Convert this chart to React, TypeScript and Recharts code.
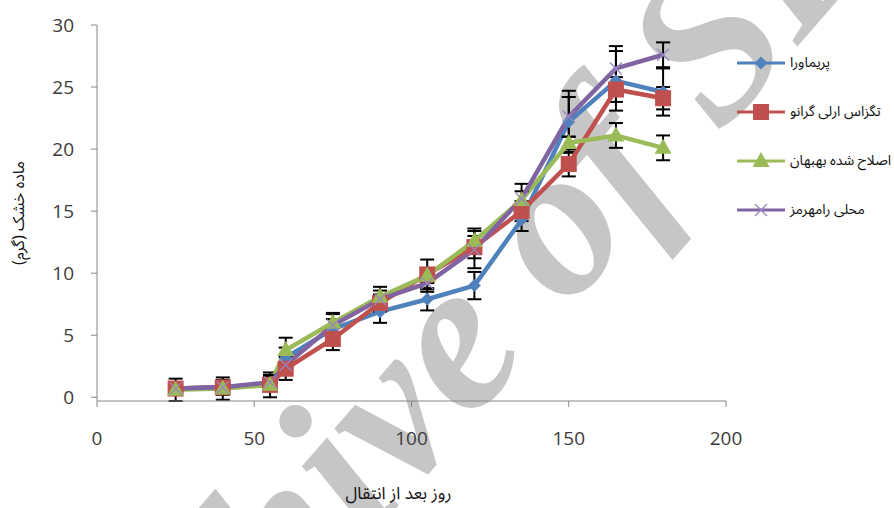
import React from 'react';
import { LineChart, Line, XAxis, YAxis, ErrorBar } from 'recharts';

// Days after transplanting
const days = [25, 40, 55, 60, 75, 90, 105, 120, 135, 150, 165, 180];

// Dry matter (g) per cultivar
const primavera = [0.7, 0.8, 1.1, 3.2, 5.5, 6.9, 7.9, 9.0, 14.3, 22.2, 25.5, 24.6];
const texasEarlyGrano = [0.7, 0.8, 1.0, 2.3, 4.7, 7.6, 9.9, 12.1, 15.0, 18.8, 24.8, 24.1];
const behbahanImproved = [0.6, 0.7, 1.0, 3.8, 6.0, 8.1, 9.8, 12.6, 15.9, 20.5, 21.1, 20.1];
const ramhormozLocal = [0.7, 0.8, 1.2, 2.6, 5.8, 7.9, 9.2, 11.9, 16.0, 22.6, 26.5, 27.6];

// Standard errors
const primaveraErr = [0.5, 0.5, 0.6, 0.8, 0.8, 0.9, 0.9, 1.1, 0.9, 2.5, 2.4, 1.9];
const texasEarlyGranoErr = [0.4, 0.4, 0.5, 0.9, 0.9, 0.7, 1.2, 0.9, 0.8, 1.0, 1.0, 0.9];
const behbahanImprovedErr = [0.9, 0.9, 1.0, 1.0, 0.8, 0.8, 0.6, 1.0, 1.3, 0.5, 1.0, 1.0];
const ramhormozLocalErr = [0.5, 0.6, 0.6, 0.7, 0.9, 0.7, 0.7, 1.5, 0.6, 1.6, 1.8, 1.0];

const seriesNames = ['پریماورا', 'تگزاس ارلی گرانو', 'اصلاح شده بهبهان', 'محلی رامهرمز'];
const xTicks = [0, 50, 100, 150, 200];
const yTicks = [0, 5, 10, 15, 20, 25, 30];
const xTitle = 'روز بعد از انتقال';
const yTitle = 'ماده خشک (گرم)';
const watermark = 'Archive of SID';

const rows = days.map((d, i) => ({
  day: d,
  s0: primavera[i],
  s1: texasEarlyGrano[i],
  s2: behbahanImproved[i],
  s3: ramhormozLocal[i],
  e0: primaveraErr[i],
  e1: texasEarlyGranoErr[i],
  e2: behbahanImprovedErr[i],
  e3: ramhormozLocalErr[i],
}));

const COLORS = ['#4F81BD', '#C0504D', '#9BBB59', '#8064A2'];

type MarkerProps = { cx: number; cy: number };

const Diamond = ({ cx, cy }: MarkerProps) => (
  <polygon
    points={`${cx},${cy - 6.5} ${cx + 6.5},${cy} ${cx},${cy + 6.5} ${cx - 6.5},${cy}`}
    fill={COLORS[0]}
  />
);
const Square = ({ cx, cy }: MarkerProps) => (
  <rect x={cx - 8} y={cy - 8} width={16} height={16} fill={COLORS[1]} />
);
const Triangle = ({ cx, cy }: MarkerProps) => (
  <polygon
    points={`${cx},${cy - 9} ${cx + 8.5},${cy + 6} ${cx - 8.5},${cy + 6}`}
    fill={COLORS[2]}
  />
);
const Cross = ({ cx, cy }: MarkerProps) => (
  <g stroke="#9a86c0" strokeWidth={1.3}>
    <line x1={cx - 6} y1={cy - 6} x2={cx + 6} y2={cy + 6} />
    <line x1={cx - 6} y1={cy + 6} x2={cx + 6} y2={cy - 6} />
  </g>
);
const MARKERS = [Diamond, Square, Triangle, Cross];

const makeDot = (k: number) => (props: any) => {
  const M = MARKERS[k];
  if (props.cx == null || props.cy == null) return <g key={`d${k}-${props.index}`} />;
  return (
    <g key={`d${k}-${props.index}`}>
      <M cx={props.cx} cy={props.cy} />
    </g>
  );
};

const tickFont = { fontFamily: '"Open Sans", sans-serif', fontSize: 19, fill: '#3c3c3c' };
const faFont = '"Noto Sans Arabic", "DejaVu Sans", sans-serif';

export default function App() {
  return (
    <div
      style={{
        position: 'absolute',
        left: 0,
        top: 0,
        width: 894,
        height: 508,
        overflow: 'hidden',
        background: '#fff',
      }}
    >
      <svg width={894} height={508} style={{ position: 'absolute', left: 0, top: 0 }}>
        <text
          x={462}
          y={322}
          textAnchor="middle"
          dominantBaseline="central"
          transform="rotate(-49 462 322)"
          fontFamily='"Liberation Serif", serif'
          fontStyle="italic"
          fontWeight="bold"
          fontSize={215}
          fill="#c6c6c6"
        >
          {watermark}
        </text>
      </svg>
      <div style={{ position: 'absolute', left: 0, top: 0 }}>
        <LineChart
          width={894}
          height={508}
          data={rows}
          margin={{ top: 25, right: 168, bottom: 0, left: 0 }}
        >
          <XAxis
            dataKey="day"
            type="number"
            domain={[0, 200]}
            ticks={xTicks}
            interval={0}
            height={107}
            stroke="#868686"
            tickSize={6}
            tickMargin={25}
            tick={tickFont}
            label={{
              value: xTitle,
              position: 'insideBottom',
              offset: 9,
              dx: -13,
              style: { fontFamily: faFont, fontSize: 17, fill: '#111' },
            }}
          />
          <YAxis
            type="number"
            domain={[0, 30]}
            ticks={yTicks}
            interval={0}
            width={97}
            stroke="#868686"
            tickSize={6}
            tickMargin={17}
            tick={tickFont}
            label={{
              value: yTitle,
              angle: -90,
              position: 'insideLeft',
              offset: 18,
              style: { fontFamily: faFont, fontSize: 16, fill: '#111', textAnchor: 'middle' },
            }}
          />
          {[0, 1, 2, 3].map((k) => (
            <Line
              key={k}
              dataKey={`s${k}`}
              stroke={COLORS[k]}
              strokeWidth={4.5}
              dot={makeDot(k)}
              activeDot={false}
              isAnimationActive={false}
            >
              <ErrorBar dataKey={`e${k}`} width={7} strokeWidth={2} stroke="#000" direction="y" />
            </Line>
          ))}
        </LineChart>
      </div>
      <div style={{ position: 'absolute', left: 736, top: 38 }}>
        {seriesNames.map((name, k) => {
          const M = MARKERS[k];
          return (
            <div
              key={k}
              style={{ display: 'flex', alignItems: 'center', height: 49, whiteSpace: 'nowrap' }}
            >
              <svg width={50} height={24}>
                <line x1={1} y1={12} x2={49} y2={12} stroke={COLORS[k]} strokeWidth={3} />
                <M cx={25} cy={12} />
              </svg>
              <span
                style={{
                  fontFamily: faFont,
                  fontSize: 14,
                  color: '#111',
                  marginLeft: 4,
                  direction: 'rtl',
                }}
              >
                {name}
              </span>
            </div>
          );
        })}
      </div>
    </div>
  );
}
